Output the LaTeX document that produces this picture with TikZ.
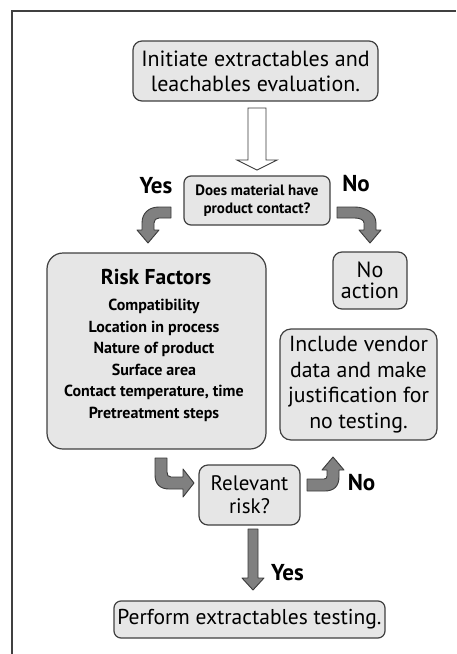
\documentclass[tikz,border=0pt]{standalone}
\usepackage{fontspec}
\setmainfont{PT Sans}
\begin{document}
\begin{tikzpicture}[x=1pt,y=-1pt,
  box/.style={draw=boxline,fill=boxfill,line width=1.2pt,rounded corners=9pt,align=center,inner sep=0pt},
  blockarrow/.style={draw=arrline,fill=arrfill,line width=0.9pt,line join=round},
  hollowarrow/.style={draw=arrline,fill=white,line width=0.9pt,line join=miter},
  lbl/.style={font=\bfseries\fontsize{23}{25}\selectfont,inner sep=0pt}]
\definecolor{boxfill}{HTML}{E6E6E6}
\definecolor{boxline}{HTML}{404040}
\definecolor{arrfill}{HTML}{808080}
\definecolor{arrline}{HTML}{3A3A3A}
\useasboundingbox (0,0) rectangle (456,654);
% frame
\draw[line width=2pt,draw=boxline] (12,654) -- (12,10.5) -- (456,10.5);
% boxes
\node[box,minimum width=245pt,minimum height=60pt,font=\fontsize{22}{25}\selectfont] (init) at (255.5,71) {Initiate extractables and\\leachables evaluation.};
\node[box,minimum width=146pt,minimum height=49pt,rounded corners=7pt,font=\bfseries\fontsize{15}{18}\selectfont] (q) at (257,200.5) {Does material have\\product contact?};
\node[box,minimum width=219pt,minimum height=196pt,rounded corners=16pt] (risk) at (156.5,351) {};
\node[font=\bfseries\fontsize{21.5}{23}\selectfont,inner sep=0pt] (rtitle) at (156,277) {Risk Factors};
\node[font=\bfseries\fontsize{16}{21.5}\selectfont,align=center,inner sep=0pt,anchor=north] (ritems) at (154,299) {Compatibility\\Location in process\\Nature of product\\Surface area\\Contact temperature, time\\Pretreatment steps};
\node[box,minimum width=74pt,minimum height=57pt,font=\fontsize{22}{20.5}\selectfont] (noact) at (370,280.5) {No\\action};
\node[box,minimum width=157pt,minimum height=111pt,rounded corners=11pt,font=\fontsize{21.8}{25.5}\selectfont] (incl) at (358.5,384.5) {Include vendor\\data and make\\justification for\\no testing.};
\node[box,minimum width=101pt,minimum height=60pt,font=\fontsize{21}{23}\selectfont] (rel) at (249.5,495) {Relevant\\risk?};
\node[box,minimum width=271pt,minimum height=37pt,rounded corners=7pt,font=\fontsize{21.5}{22}\selectfont] (perf) at (249.5,619.5) {Perform extractables testing.};
% labels
\node[lbl] (yes1) at (156,186) {Yes};
\node[lbl] (no1) at (356,184) {No};
\node[lbl] (no2) at (361.5,483) {No};
\node[lbl] (yes2) at (287.5,573) {Yes};
% hollow arrow init -> q
\draw[hollowarrow] (248,108) -- (266,108) -- (266,160) -- (277,160) -- (257,170) -- (237,160) -- (248,160) -- cycle;
% q -> risk (Yes)
\draw[blockarrow] (171,207) -- (159,207) .. controls (149,207) and (142,213) .. (142,223) -- (142,230) -- (137,230) -- (148,243) -- (159,230) -- (154,230) -- (154,223) .. controls (154,220) and (156,218) .. (159,218) -- (171,218) -- cycle;
% q -> noact (No)
\draw[blockarrow] (337,207) -- (355,207) .. controls (365,207) and (376,213) .. (376,223) -- (376,230) -- (381,230) -- (370,243) -- (359,230) -- (364,230) -- (364,223) .. controls (364,220) and (360,218) .. (355,218) -- (337,218) -- cycle;
% risk -> rel
\draw[blockarrow] (155,458) -- (155,475) .. controls (155,484) and (160,489) .. (169,489) -- (183,489) -- (183,497) -- (194,483) -- (183,469) -- (183,477) -- (171,477) .. controls (168,477) and (167,475) .. (167,472) -- (167,458) -- cycle;
% rel -> incl (No)
\draw[blockarrow] (307,491) -- (325,491) .. controls (334,491) and (339,486) .. (339,477) -- (339,470) -- (344,470) -- (333,457) -- (322,470) -- (327,470) -- (327,476) .. controls (327,478) and (326,479) .. (324,479) -- (307,479) -- cycle;
% rel -> perf (Yes)
\draw[blockarrow] (248,529) -- (258,529) -- (258,578) -- (264,578) -- (253,590) -- (242,578) -- (248,578) -- cycle;
\end{tikzpicture}
\end{document}
